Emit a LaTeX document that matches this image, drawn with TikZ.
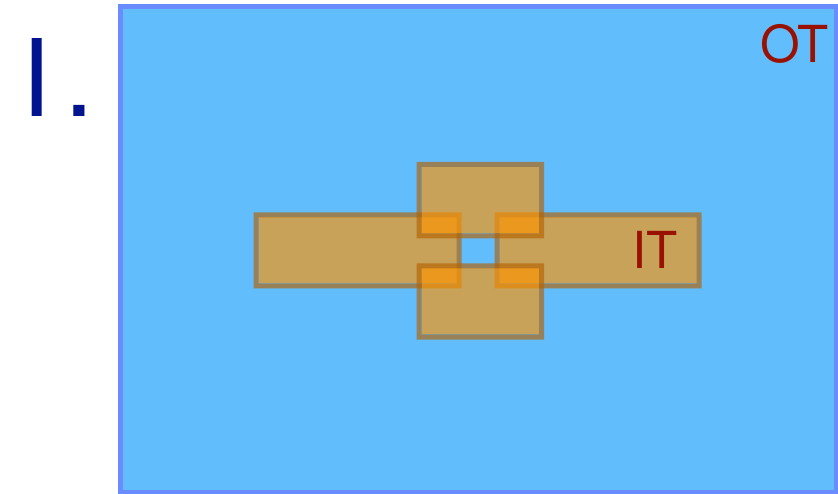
\documentclass[tikz,border=0pt]{standalone}
\usepackage{fontspec}
\setmainfont{TeX Gyre Heros}
\definecolor{otfill}{RGB}{98,189,253}
\definecolor{otdraw}{RGB}{107,140,255}
\definecolor{itfill}{RGB}{255,149,0}
\definecolor{itdraw}{RGB}{181,98,0}
\definecolor{labred}{RGB}{153,17,0}
\definecolor{labblue}{RGB}{0,20,144}
\newcommand\orangebox[4]{%
  \fill[itfill, opacity=0.65] (#1+2.5,#2+2.5) rectangle (#3-2.5,#4-2.5);
  \fill[itdraw, opacity=0.65, even odd rule]
    (#1-2.5,#2-2.5) rectangle (#3+2.5,#4+2.5)
    (#1+2.5,#2+2.5) rectangle (#3-2.5,#4-2.5);
}
\begin{document}
\begin{tikzpicture}[x=1pt,y=-1pt,
  lab/.style={inner sep=0pt, font=\fontsize{51}{51}\selectfont, text=labred}]
\useasboundingbox (0,0) rectangle (838,494);
\draw[otdraw, fill=otfill, line width=5pt] (120,6.5) rectangle (836,492);
\orangebox{256}{215}{459}{286}
\orangebox{497}{215}{699}{286}
\orangebox{419}{164.5}{541.5}{236}
\orangebox{419}{266}{541.5}{337}
\node[lab, anchor=base east] (ot) at (829,63) {OT};
\node[lab, anchor=base east] (it) at (678,269) {IT};
\node[inner sep=0pt, anchor=base west, text=labblue,
  font=\fontsize{107}{107}\selectfont] (num) at (21,117) {I\kern14pt.};
\end{tikzpicture}
\end{document}
